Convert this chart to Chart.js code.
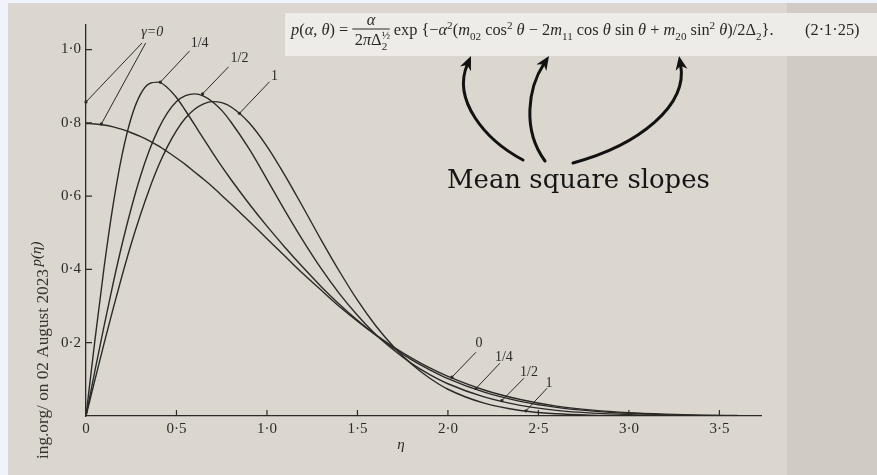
<!DOCTYPE html>
<html>
<head>
<meta charset="utf-8">
<script src="https://cdn.jsdelivr.net/npm/chart.js@4.4.0/dist/chart.umd.min.js"></script>
<style>
  html, body { margin: 0; padding: 0; background: #f0f4fa; }
  canvas { display: block; }
</style>
</head>
<body>
<canvas id="grafico" width="877" height="475"></canvas>
<script>
// eta y densidad p(eta) para cada gamma
const ETA = [0, 0.05, 0.1, 0.15, 0.2, 0.25, 0.3, 0.35, 0.4, 0.45, 0.5, 0.55, 0.6, 0.65, 0.7, 0.75, 0.8, 0.9,
  1.0, 1.1, 1.2, 1.3, 1.4, 1.5, 1.6, 1.7, 1.8, 1.9, 2.0, 2.2, 2.4, 2.6, 2.8, 3.0, 3.2, 3.4, 3.6];
const P_GAMMA_0 = [0.798, 0.797, 0.794, 0.789, 0.782, 0.773, 0.763, 0.751, 0.737, 0.721, 0.704, 0.686, 0.666, 0.646, 0.625, 0.602, 0.579, 0.532,
  0.484, 0.436, 0.388, 0.343, 0.299, 0.259, 0.222, 0.188, 0.158, 0.131, 0.108, 0.071, 0.045, 0.027, 0.016, 0.009, 0.005, 0.0025, 0.0012];
const P_GAMMA_14 = [0, 0.210, 0.406, 0.577, 0.714, 0.814, 0.877, 0.907, 0.911, 0.896, 0.869, 0.833, 0.795, 0.756, 0.718, 0.681, 0.646, 0.580,
  0.518, 0.460, 0.405, 0.353, 0.305, 0.261, 0.221, 0.185, 0.153, 0.126, 0.102, 0.065, 0.040, 0.0235, 0.0133, 0.0072, 0.0037, 0.0018, 0.0009];
const P_GAMMA_12 = [0, 0.125, 0.246, 0.362, 0.470, 0.567, 0.653, 0.725, 0.783, 0.827, 0.858, 0.874, 0.879, 0.873, 0.857, 0.834, 0.803, 0.730,
  0.646, 0.560, 0.478, 0.402, 0.334, 0.275, 0.223, 0.180, 0.143, 0.113, 0.088, 0.052, 0.029, 0.0154, 0.0078, 0.0038, 0.0017, 0.0008, 0.0003];
const P_GAMMA_1 = [0, 0.100, 0.198, 0.293, 0.384, 0.470, 0.548, 0.619, 0.682, 0.735, 0.779, 0.813, 0.837, 0.852, 0.858, 0.855, 0.844, 0.801,
  0.736, 0.656, 0.569, 0.480, 0.395, 0.316, 0.247, 0.189, 0.141, 0.103, 0.073, 0.035, 0.015, 0.006, 0.0022, 0.0007, 0.0002, 0.0001, 0];

const TICKS_X = [0, 0.5, 1.0, 1.5, 2.0, 2.5, 3.0, 3.5];
const TICKS_Y = [0.2, 0.4, 0.6, 0.8, 1.0];

const TINTA = '#2b2a28';
const SERIF = '"Liberation Serif", "DejaVu Serif", serif';

// rotulos de las curvas: texto, posicion y lineas guia (en unidades de los ejes)
const ROTULOS = [
  { texto: 'γ=0', italica: true, en: [0.366, 1.046], guias: [[0.31, 1.018, 0, 0.857], [0.33, 1.018, 0.085, 0.797]] },
  { texto: '1/4', en: [0.628, 1.017], guias: [[0.572, 0.996, 0.411, 0.911]] },
  { texto: '1/2', en: [0.848, 0.975], guias: [[0.788, 0.953, 0.644, 0.879]] },
  { texto: '1', en: [1.042, 0.928], guias: [[1.014, 0.912, 0.848, 0.826]] },
  { texto: '0', en: [2.172, 0.198], guias: [[2.155, 0.174, 2.022, 0.106]] },
  { texto: '1/4', en: [2.309, 0.160], guias: [[2.287, 0.144, 2.155, 0.075]] },
  { texto: '1/2', en: [2.448, 0.120], guias: [[2.420, 0.103, 2.298, 0.042]] },
  { texto: '1', en: [2.559, 0.090], guias: [[2.548, 0.076, 2.431, 0.014]] }
];

const formato = v => v === 0 ? '0' : v.toFixed(1).replace('.', '·');
const serie = valores => ETA.map((x, i) => ({ x, y: valores[i] }));

function curva(valores) {
  return {
    data: serie(valores),
    borderColor: TINTA,
    borderWidth: 1.4,
    pointRadius: 0,
    cubicInterpolationMode: 'monotone',
    fill: false
  };
}

const fondo = {
  id: 'fondo',
  beforeDraw(chart) {
    const ctx = chart.ctx;
    ctx.save();
    ctx.fillStyle = '#f0f4fa';
    ctx.fillRect(0, 0, 877, 475);
    ctx.fillStyle = '#dbd7cf';
    ctx.fillRect(8, 3, 869, 472);
    ctx.fillStyle = '#d0cbc4';
    ctx.fillRect(787, 3, 90, 472);
    ctx.fillStyle = '#eeece8';
    ctx.fillRect(285, 13, 592, 43);
    ctx.restore();
  }
};

// marcas de graduacion hacia dentro del area
const marcasInternas = {
  id: 'marcasInternas',
  afterDatasetsDraw(chart) {
    const { ctx, chartArea, scales: { x, y } } = chart;
    ctx.save();
    ctx.strokeStyle = TINTA;
    ctx.lineWidth = 1.2;
    ctx.beginPath();
    x.ticks.forEach(t => {
      if (t.value === 0) return;
      const px = x.getPixelForValue(t.value);
      ctx.moveTo(px, chartArea.bottom);
      ctx.lineTo(px, chartArea.bottom - 6);
    });
    y.ticks.forEach(t => {
      const py = y.getPixelForValue(t.value);
      ctx.moveTo(chartArea.left, py);
      ctx.lineTo(chartArea.left + 6, py);
    });
    ctx.stroke();
    ctx.restore();
  }
};

const rotulos = {
  id: 'rotulos',
  afterDraw(chart) {
    const { ctx, scales: { x, y } } = chart;
    ctx.save();
    ctx.strokeStyle = TINTA;
    ctx.fillStyle = TINTA;
    ctx.lineWidth = 1;
    ctx.textAlign = 'center';
    ctx.textBaseline = 'middle';
    ROTULOS.forEach(r => {
      r.guias.forEach(([x0, y0, x1, y1]) => {
        const ax = x.getPixelForValue(x0), ay = y.getPixelForValue(y0);
        const bx = x.getPixelForValue(x1), by = y.getPixelForValue(y1);
        ctx.beginPath();
        ctx.moveTo(ax, ay);
        ctx.lineTo(bx, by);
        ctx.stroke();
        ctx.beginPath();
        ctx.arc(bx, by, 1.6, 0, Math.PI * 2);
        ctx.fill();
      });
      ctx.font = `${r.italica ? 'italic ' : ''}14px ${SERIF}`;
      ctx.fillText(r.texto, x.getPixelForValue(r.en[0]), y.getPixelForValue(r.en[1]));
    });

    // titulos de los ejes
    ctx.font = `italic 15px ${SERIF}`;
    ctx.fillText('η', 401, 445);
    ctx.save();
    ctx.translate(37, 254);
    ctx.rotate(-Math.PI / 2);
    ctx.fillText('p(η)', 0, 0);
    ctx.restore();

    // sello lateral
    ctx.save();
    ctx.translate(43, 459);
    ctx.rotate(-Math.PI / 2);
    ctx.textAlign = 'left';
    ctx.fillStyle = '#363532';
    ajustarTexto(ctx, 'ing.org/ on 02 August 2023', 190, '', SERIF);
    ctx.fillText('ing.org/ on 02 August 2023', 0, 0);
    ctx.restore();

    dibujarFormula(ctx);
    dibujarFlechas(ctx);
    ctx.restore();
  }
};

function ajustarTexto(ctx, texto, ancho, estilo, familia) {
  ctx.font = `${estilo}20px ${familia}`;
  const s = 20 * ancho / ctx.measureText(texto).width;
  ctx.font = `${estilo}${s.toFixed(2)}px ${familia}`;
  return s;
}

// formula (2.1.25) escrita a trozos: t texto, i italica, n nivel (1 super, -1 sub), a apilado
const FORMULA_IZQ = [
  { t: 'p', i: 1 }, { t: '(' }, { t: 'α', i: 1 }, { t: ', ' }, { t: 'θ', i: 1 }, { t: ') = ' }
];
const FORMULA_NUM = [{ t: 'α', i: 1 }];
const FORMULA_DEN = [{ t: '2' }, { t: 'π', i: 1 }, { t: 'Δ' }, { t: '½', n: 1, a: 1 }, { t: '2', n: -1 }];
const FORMULA_DER = [
  { t: ' exp {−' }, { t: 'α', i: 1 }, { t: '2', n: 1 }, { t: '(' }, { t: 'm', i: 1 }, { t: '02', n: -1 },
  { t: ' cos' }, { t: '2', n: 1 }, { t: ' ' }, { t: 'θ', i: 1 }, { t: ' − 2' }, { t: 'm', i: 1 }, { t: '11', n: -1 },
  { t: ' cos ' }, { t: 'θ', i: 1 }, { t: ' sin ' }, { t: 'θ', i: 1 }, { t: ' + ' }, { t: 'm', i: 1 }, { t: '20', n: -1 },
  { t: ' sin' }, { t: '2', n: 1 }, { t: ' ' }, { t: 'θ', i: 1 }, { t: ')/2Δ' }, { t: '2', n: -1 }, { t: '}.' }
];

function fuente(p, base) {
  const s = p.n ? base * 0.68 : base;
  return `${p.i ? 'italic ' : ''}${s.toFixed(2)}px ${SERIF}`;
}

function anchoTrozos(ctx, trozos, base) {
  let w = 0;
  trozos.forEach(p => {
    ctx.font = fuente(p, base);
    if (!p.a) w += ctx.measureText(p.t).width;
  });
  return w;
}

function escribirTrozos(ctx, trozos, base, x, y) {
  trozos.forEach(p => {
    ctx.font = fuente(p, base);
    const dy = p.n === 1 ? -base * 0.38 : p.n === -1 ? base * 0.28 : 0;
    ctx.fillText(p.t, x, y + dy);
    if (!p.a) x += ctx.measureText(p.t).width;
  });
  return x;
}

function dibujarFormula(ctx) {
  ctx.save();
  ctx.fillStyle = '#2a2927';
  ctx.textAlign = 'left';
  ctx.textBaseline = 'alphabetic';
  const anchoTotal = base => anchoTrozos(ctx, FORMULA_IZQ, base) +
    Math.max(anchoTrozos(ctx, FORMULA_NUM, base), anchoTrozos(ctx, FORMULA_DEN, base)) + base * 0.3 +
    anchoTrozos(ctx, FORMULA_DER, base);
  const base = 16 * 483 / anchoTotal(16);

  let x = escribirTrozos(ctx, FORMULA_IZQ, base, 291, 35);
  const wNum = anchoTrozos(ctx, FORMULA_NUM, base);
  const wDen = anchoTrozos(ctx, FORMULA_DEN, base);
  const wFrac = Math.max(wNum, wDen) + base * 0.3;
  escribirTrozos(ctx, FORMULA_NUM, base, x + (wFrac - wNum) / 2, 25);
  escribirTrozos(ctx, FORMULA_DEN, base, x + (wFrac - wDen) / 2, 45);
  ctx.fillRect(x, 28.5, wFrac, 1);
  x += wFrac;
  escribirTrozos(ctx, FORMULA_DER, base, x, 35);

  ctx.font = `${base.toFixed(2)}px ${SERIF}`;
  ctx.fillText('(2·1·25)', 805, 35);
  ctx.restore();
}

function flecha(ctx, p0, c1, c2, punta) {
  const ang = Math.atan2(punta[1] - c2[1], punta[0] - c2[0]);
  const cos = Math.cos(ang), sin = Math.sin(ang);
  const L = 14, W = 6;
  ctx.beginPath();
  ctx.moveTo(p0[0], p0[1]);
  ctx.bezierCurveTo(c1[0], c1[1], c2[0], c2[1], punta[0] - 9 * cos, punta[1] - 9 * sin);
  ctx.stroke();
  ctx.beginPath();
  ctx.moveTo(punta[0], punta[1]);
  ctx.lineTo(punta[0] - L * cos - W * sin, punta[1] - L * sin + W * cos);
  ctx.lineTo(punta[0] - L * 0.7 * cos, punta[1] - L * 0.7 * sin);
  ctx.lineTo(punta[0] - L * cos + W * sin, punta[1] - L * sin - W * cos);
  ctx.closePath();
  ctx.fill();
}

function dibujarFlechas(ctx) {
  ctx.save();
  ctx.strokeStyle = '#121212';
  ctx.fillStyle = '#121212';
  ctx.lineWidth = 3;
  ctx.lineCap = 'round';
  flecha(ctx, [523, 160], [485, 140], [452, 100], [471, 56]);
  flecha(ctx, [545, 161], [522, 130], [528, 88], [549, 56]);
  flecha(ctx, [573, 163], [640, 145], [688, 105], [679, 56]);

  ctx.fillStyle = '#151515';
  ctx.textAlign = 'left';
  ctx.textBaseline = 'alphabetic';
  ajustarTexto(ctx, 'Mean square slopes', 263, '', '"DejaVu Serif", serif');
  ctx.fillText('Mean square slopes', 447, 188);
  ctx.restore();
}

new Chart(document.getElementById('grafico'), {
  type: 'line',
  data: {
    datasets: [curva(P_GAMMA_0), curva(P_GAMMA_14), curva(P_GAMMA_12), curva(P_GAMMA_1)]
  },
  options: {
    responsive: false,
    animation: false,
    devicePixelRatio: 1,
    layout: { padding: { top: 25, right: 116, left: 0, bottom: 0 } },
    scales: {
      x: {
        type: 'linear',
        min: 0,
        max: 3.73,
        afterFit: s => { s.height = 59; },
        afterBuildTicks: s => { s.ticks = TICKS_X.map(value => ({ value })); },
        grid: { display: false, drawTicks: false, tickLength: 0 },
        border: { display: true, color: TINTA, width: 1.3 },
        ticks: {
          padding: 4,
          maxRotation: 0,
          autoSkip: false,
          color: TINTA,
          font: { family: SERIF, size: 15 },
          callback: v => formato(v)
        }
      },
      y: {
        type: 'linear',
        min: 0,
        max: 1.067,
        afterFit: s => { s.width = 86; },
        afterBuildTicks: s => { s.ticks = TICKS_Y.map(value => ({ value })); },
        grid: { display: false, drawTicks: false, tickLength: 0 },
        border: { display: true, color: TINTA, width: 1.3 },
        ticks: {
          padding: 5,
          autoSkip: false,
          color: TINTA,
          font: { family: SERIF, size: 15 },
          callback: v => formato(v)
        }
      }
    },
    plugins: {
      legend: { display: false },
      tooltip: { enabled: false }
    }
  },
  plugins: [fondo, marcasInternas, rotulos]
});
</script>
</body>
</html>
